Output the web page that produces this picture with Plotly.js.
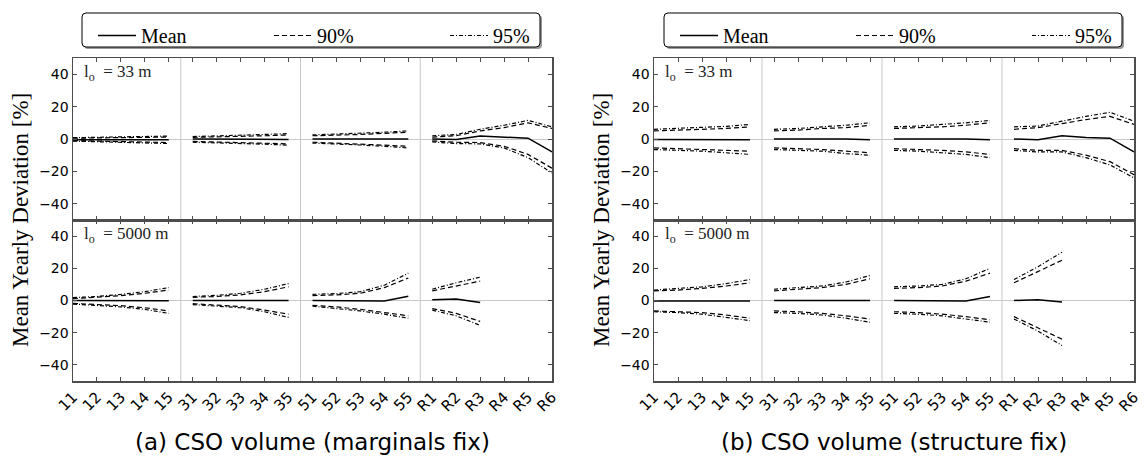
<!DOCTYPE html>
<html><head><meta charset="utf-8">
<script src="https://cdn.plot.ly/plotly-3.0.1.min.js"></script>
<style>html,body{margin:0;padding:0;background:#fff;}#chart{width:1145px;height:459px;}</style>
</head><body><div id="chart"></div>
<script>
// ---- data ----
const categories = ['11','12','13','14','15','31','32','33','34','35','51','52','53','54','55','R1','R2','R3','R4','R5','R6'];
const seriesNames = ['Mean','90%','95%'];
const yTicks = [-40,-20,0,20,40];
const captions = ['(a) CSO volume (marginals fix)','(b) CSO volume (structure fix)'];
const lengthLabels = ['l<sub>o</sub>  = 33 m','l<sub>o</sub>  = 5000 m'];
const yTitle = 'Mean Yearly Deviation [%]';

// panel (a), l_o = 33 m
const a33_mean   = [-0.4,-0.4,-0.4,-0.5,-0.5, 0,0,0,0,-0.3, 0,0,0,0,0, 0,-0.3,1.8,1,0.5,-8];
const a33_p90_hi = [0.5,0.6,0.8,1,1.2, 1,1.2,1.5,2,2.5, 2,2.3,2.8,3.5,4.2, 1.2,2,5,7,10,6.5];
const a33_p95_hi = [0.8,1,1.2,1.5,1.8, 1.5,1.8,2.2,2.8,3.3, 2.5,3,3.5,4.2,5, 2,2.8,6,8.5,11.5,7.5];
const a33_p90_lo = [-1,-1.2,-1.5,-1.8,-2.2, -1.5,-1.8,-2,-2.5,-3, -2,-2.5,-3,-3.8,-4.5, -1.2,-2,-2.2,-4.5,-9.5,-18];
const a33_p95_lo = [-1.3,-1.6,-2,-2.4,-2.8, -2,-2.3,-2.7,-3.2,-3.8, -2.5,-3,-3.7,-4.5,-5.5, -1.8,-2.8,-3,-5.5,-11.5,-21];
// panel (a), l_o = 5000 m
const a5k_mean   = [0,0,0,0,-0.2, 0,0,0,0,0, 0,0,-0.3,-0.3,2.7, 0.5,1,-1.3, null,null,null];
const a5k_p90_hi = [1.2,2,3,4.5,6.5, 2,2.5,3.5,5.5,8.5, 3,3.5,4.5,8,14, 6,9,12, null,null,null];
const a5k_p95_hi = [1.8,2.5,3.8,5.5,8, 2.5,3.2,4.5,7,10.5, 3.8,4.3,5.5,9.5,17, 7,11,14.5, null,null,null];
const a5k_p90_lo = [-1.8,-2.5,-3.2,-4.5,-6.5, -2,-2.8,-3.8,-6,-8.5, -3,-4,-5.5,-7.5,-9.5, -5,-8,-13, null,null,null];
const a5k_p95_lo = [-2.2,-3,-4,-5.5,-8, -2.5,-3.3,-4.5,-7,-10.5, -3.5,-4.8,-6.5,-8.5,-11, -6,-9.5,-15.5, null,null,null];
// panel (b), l_o = 33 m
const b33_mean   = [-0.3,-0.3,-0.3,-0.3,-0.5, 0,0,0,0,-0.5, 0,0,0,0,-0.5, 0,-0.5,2,1,0.5,-8];
const b33_p90_hi = [5,5.5,6,6.5,7.5, 5,5.5,6.5,7,8.5, 6.5,7,7.5,8.5,10, 6,7,9.5,12,14,9];
const b33_p95_hi = [6,6.5,7,7.8,9, 6,6.5,7.5,8.5,10, 7.5,8,9,10,11.5, 7.5,8,11,14,16.5,11];
const b33_p90_lo = [-5.5,-6,-6.5,-7,-7.5, -5.5,-6,-6.5,-7.5,-8.5, -6,-6.5,-7,-8,-9.5, -6,-7,-7,-10,-14,-22];
const b33_p95_lo = [-6.5,-7,-7.5,-8.5,-9.5, -6.5,-7,-7.5,-9,-10, -7,-7.5,-8.5,-9.5,-11.5, -7,-8,-8,-11.5,-16,-24];
// panel (b), l_o = 5000 m
const b5k_mean   = [-0.3,-0.3,-0.2,-0.2,-0.3, 0,0,0,0,0, 0,0,-0.3,-0.3,2.5, 0,0.5,-1, null,null,null];
const b5k_p90_hi = [6,6.5,7.5,9,11, 6,7,8,10,13.5, 7.5,8,9,12,17, 11,18,25, null,null,null];
const b5k_p95_hi = [6.5,7.5,8.5,10.5,13, 7,8,9,11.5,15.5, 8.5,9,10,13.5,20, 13,21,30, null,null,null];
const b5k_p90_lo = [-6.5,-7,-7.5,-9,-11, -6.5,-7,-8,-9.5,-11.5, -7,-7.5,-8.5,-10,-12, -10,-17,-24, null,null,null];
const b5k_p95_lo = [-7,-7.5,-8.5,-10.5,-12.5, -7.5,-8,-9,-11,-13.5, -8,-8.5,-9.5,-11.5,-13.5, -11.5,-19,-28, null,null,null];

// ---- build ----
const W = 1145, H = 459;
const fx = p => p / W, fy = p => 1 - p / H;
const AX = '#4d4d4d', GRID = '#c8c8c8';
const SERIF = 'Liberation Serif, DejaVu Serif, serif';
const SANS = 'DejaVu Sans, sans-serif';

// groups from category prefix
const groups = [];
categories.forEach((c, i) => {
  const g = c[0];
  if (!groups.length || groups[groups.length-1].key !== g) groups.push({key: g, idx: []});
  groups[groups.length-1].idx.push(i);
});
const separators = groups.slice(1).map(g => g.idx[0] - 0.5);

const styles = {
  'Mean': {dash: 'solid', width: 1.5},
  '90%':  {dash: '5px,3px', width: 1.2},
  '95%':  {dash: '4px,2px,1px,2px', width: 1.2}
};

const panels = [
  {left: 73, right: 552, legend: 'legend', box: [82, 540],
   subs: [
     {xa: 'x', ya: 'y', series: {'Mean': [a33_mean], '90%': [a33_p90_hi, a33_p90_lo], '95%': [a33_p95_hi, a33_p95_lo]}},
     {xa: 'x2', ya: 'y2', series: {'Mean': [a5k_mean], '90%': [a5k_p90_hi, a5k_p90_lo], '95%': [a5k_p95_hi, a5k_p95_lo]}}
   ]},
  {left: 654, right: 1134, legend: 'legend2', box: [664, 1122],
   subs: [
     {xa: 'x3', ya: 'y3', series: {'Mean': [b33_mean], '90%': [b33_p90_hi, b33_p90_lo], '95%': [b33_p95_hi, b33_p95_lo]}},
     {xa: 'x4', ya: 'y4', series: {'Mean': [b5k_mean], '90%': [b5k_p90_hi, b5k_p90_lo], '95%': [b5k_p95_hi, b5k_p95_lo]}}
   ]}
];

const traces = [];
const layout = {
  width: W, height: H,
  margin: {l: 0, r: 0, t: 0, b: 0, pad: 0, autoexpand: false},
  paper_bgcolor: '#fff', plot_bgcolor: '#fff',
  showlegend: true,
  shapes: [], annotations: []
};

const topDom = [fy(220), fy(58)];
const botDom = [fy(381), fy(220)];

panels.forEach((p, pi) => {
  const xd = [fx(p.left), fx(p.right)];
  p.subs.forEach((s, si) => {
    const xName = 'xaxis' + (s.xa === 'x' ? '' : s.xa.slice(1));
    const yName = 'yaxis' + (s.ya === 'y' ? '' : s.ya.slice(1));
    const isBottom = si === 1;
    layout[xName] = {
      domain: xd, anchor: s.ya, type: 'category', categoryorder: 'array', categoryarray: categories,
      range: [0, categories.length - 1], showline: true, linecolor: AX, linewidth: 1.5, mirror: 'ticks',
      ticks: 'inside', ticklen: 4, tickwidth: 1, tickcolor: AX, showgrid: false, zeroline: false,
      showticklabels: isBottom, tickangle: -45, tickfont: {family: SANS, size: 15, color: '#000'},
      automargin: false, fixedrange: true
    };
    layout[yName] = {
      domain: isBottom ? botDom : topDom, anchor: s.xa, range: [-50, 50], tickvals: yTicks,
      showline: true, linecolor: AX, linewidth: 1.5, mirror: 'ticks', ticks: 'inside', ticklen: 4,
      tickwidth: 1, tickcolor: AX, showgrid: false, zeroline: true, zerolinecolor: GRID, zerolinewidth: 1,
      tickfont: {family: SANS, size: 14, color: '#000'}, automargin: false, fixedrange: true
    };
    separators.forEach(v => layout.shapes.push({type: 'line', xref: s.xa, yref: s.ya + ' domain',
      x0: v, x1: v, y0: 0, y1: 1, line: {color: GRID, width: 1}, layer: 'below'}));
    layout.annotations.push({xref: s.xa + ' domain', yref: s.ya + ' domain', x: 0.018, y: 0.985,
      xanchor: 'left', yanchor: 'top', showarrow: false, text: lengthLabels[si],
      font: {family: SERIF, size: 17, color: '#222'}});
    seriesNames.forEach(name => {
      s.series[name].forEach((arr, k) => {
        groups.forEach((g, gi) => {
          const xs = g.idx.map(i => categories[i]);
          const ys = g.idx.map(i => arr[i]);
          if (ys.every(v => v === null)) return;
          traces.push({
            type: 'scatter', mode: 'lines', x: xs, y: ys, xaxis: s.xa, yaxis: s.ya,
            name: name, legendgroup: name + pi, legend: p.legend,
            showlegend: si === 0 && k === 0 && gi === 0,
            line: {color: '#000', width: styles[name].width, dash: styles[name].dash},
            hoverinfo: 'skip'
          });
        });
      });
    });
  });
  // legend box (rounded, with shadow)
  const [bx0, bx1] = p.box, by0 = 13, by1 = 47, r = 4;
  const rp = (x0, x1, y0, y1) => {
    const rx = r / W, ry = r / H;
    const X0 = fx(x0), X1 = fx(x1), Y0 = fy(y0), Y1 = fy(y1);
    return `M${X0+rx},${Y0} L${X1-rx},${Y0} Q${X1},${Y0} ${X1},${Y0-ry} L${X1},${Y1+ry} Q${X1},${Y1} ${X1-rx},${Y1} L${X0+rx},${Y1} Q${X0},${Y1} ${X0},${Y1+ry} L${X0},${Y0-ry} Q${X0},${Y0} ${X0+rx},${Y0} Z`;
  };
  layout.shapes.push({type: 'path', xref: 'paper', yref: 'paper', path: rp(bx0 + 2, bx1 + 2, by0 + 2, by1 + 2),
    fillcolor: '#9a9a9a', line: {width: 0}, layer: 'above'});
  layout.shapes.push({type: 'path', xref: 'paper', yref: 'paper', path: rp(bx0, bx1, by0, by1),
    fillcolor: '#fff', line: {color: '#000', width: 1}, layer: 'above'});
  layout[p.legend] = {
    orientation: 'h', x: fx(bx0 + 11), y: fy(by0 + 3), xanchor: 'left', yanchor: 'top',
    bgcolor: 'rgba(0,0,0,0)', borderwidth: 0, itemwidth: 38,
    entrywidth: 123, entrywidthmode: 'pixels',
    font: {family: SERIF, size: 20, color: '#000'}, traceorder: 'normal', itemclick: false, itemdoubleclick: false
  };
  layout.annotations.push({xref: 'paper', yref: 'paper', x: fx((p.left + p.right) / 2), y: fy(442),
    xanchor: 'center', yanchor: 'middle', showarrow: false, text: captions[pi],
    font: {family: SANS, size: 23, color: '#000'}});
  layout.annotations.push({xref: 'paper', yref: 'paper', x: fx(p.left - 53), y: fy(220),
    xanchor: 'center', yanchor: 'middle', showarrow: false, textangle: -90, text: yTitle,
    font: {family: SERIF, size: 23, color: '#000'}});
});

Plotly.newPlot('chart', traces, layout, {staticPlot: true, displayModeBar: false});
</script></body></html>
